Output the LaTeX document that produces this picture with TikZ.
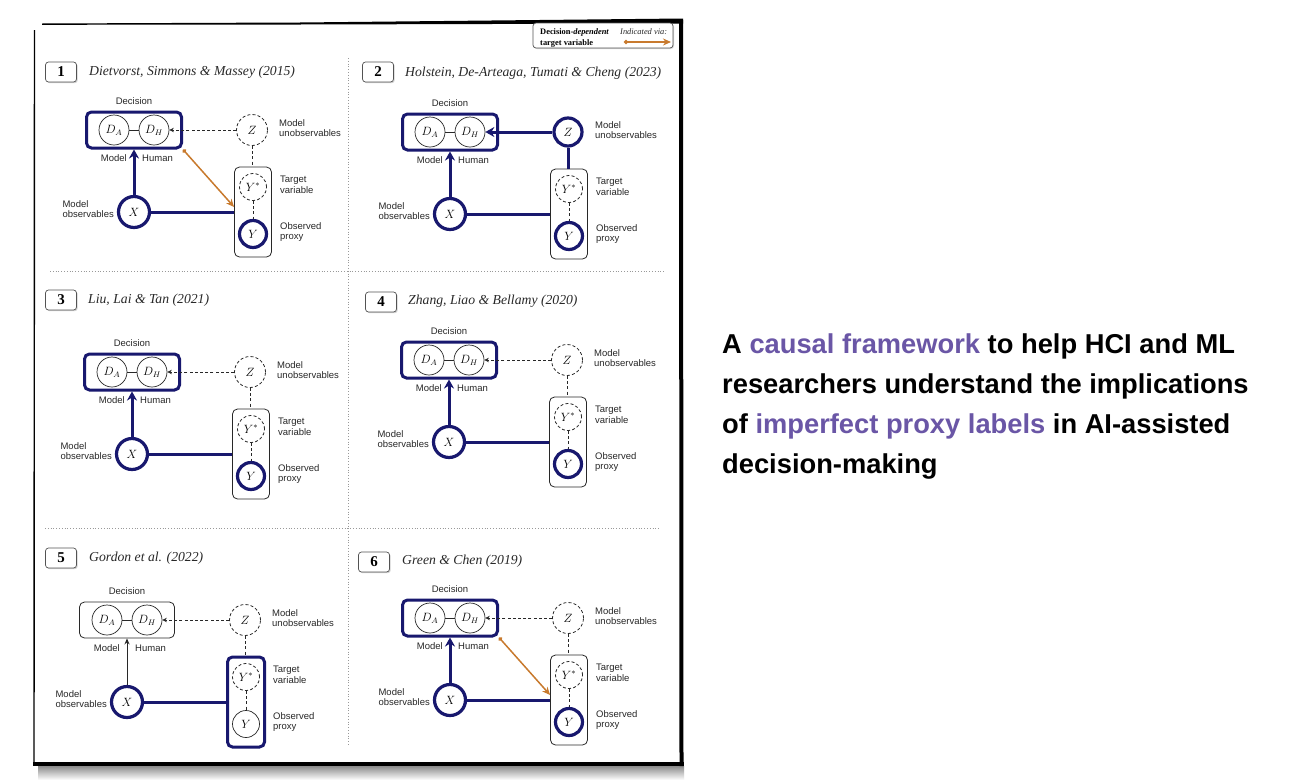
\documentclass[tikz,border=0pt]{standalone}
\usepackage{fontspec}
\setmainfont{Liberation Serif}
\setsansfont{Liberation Sans}
\usetikzlibrary{arrows.meta,shadows,calc}
\definecolor{navy}{RGB}{24,24,110}
\definecolor{orng}{RGB}{200,122,46}
\definecolor{purp}{RGB}{106,86,166}
\definecolor{ink}{RGB}{40,40,40}
\tikzset{
  lab/.style={font=\sffamily\fontsize{9.5}{10.5}\selectfont, text=ink, inner sep=0pt, align=left},
  mth/.style={circle, inner sep=0pt, font=\fontsize{12}{14}\selectfont},
  thinc/.style={mth, draw=ink, line width=0.7pt},
  dashc/.style={mth, draw=ink, line width=0.8pt, dash pattern=on 3pt off 2.2pt},
  thickc/.style={mth, draw=navy, line width=3.2pt},
  boxthin/.style={draw=ink, line width=0.8pt, rounded corners=5pt},
  boxthick/.style={draw=navy, line width=3pt, rounded corners=5pt},
  thinlink/.style={draw=ink, line width=0.7pt},
  dashlink/.style={draw=ink, line width=0.8pt, dash pattern=on 3pt off 2.2pt},
  dasharrow/.style={dashlink, -{Stealth[length=4.5pt,width=4.5pt]}},
  thicklink/.style={draw=navy, line width=3pt},
  thickarrow/.style={thicklink, -{Stealth[length=9pt,width=10pt]}},
  thinarrow/.style={thinlink, line width=1pt, -{Stealth[length=6pt,width=5pt]}},
  orangearrow/.style={draw=orng, line width=1.5pt, {Circle[length=4pt]}-{Stealth[length=8pt,width=7pt]}},
  numbox/.style={draw=ink!80, line width=0.7pt, rounded corners=3pt, fill=white,
    minimum width=31pt, minimum height=20pt, inner sep=0pt,
    font=\bfseries\fontsize{15}{15}\selectfont,
    drop shadow={shadow xshift=1.2pt, shadow yshift=-1.2pt, opacity=0.35}},
  ttl/.style={anchor=west, inner sep=0pt, text=ink, font=\itshape\fontsize{13.7}{16}\selectfont},
  divider/.style={draw=gray!80, line width=0.8pt, dotted},
  decs/.style={boxthick}, zs/.style={dashc, minimum size=31pt}, ys/.style={thickc}, tbs/.style={boxthin},
  xa/.style={thickarrow}, za/.style={dasharrow}, zl/.style={dashlink}
}
\newcommand\panelbody[1]{%
  \node[decs, minimum width=95pt, minimum height=36pt] (#1dec) at (0,0) {};
  \node[thinc, minimum size=30pt] (#1da) at (-20,0) {$D_A$};
  \node[thinc, minimum size=30pt] (#1dh) at (20,0) {$D_H$};
  \draw[thinlink] (#1da) -- (#1dh);
  \node[lab] (#1decl) at (0,-29) {Decision};
  \node[zs] (#1z) at (118,0) {$Z$};
  \node[lab, anchor=west] (#1zl) at (145,-2) {Model\\unobservables};
  \node[tbs, minimum width=37pt, minimum height=90pt] (#1tb) at (119,82) {};
  \node[dashc, minimum size=27pt] (#1ys) at (119,57) {$Y^*$};
  \node[ys, minimum size=27pt] (#1y) at (119,104) {$Y$};
  \node[thickc, minimum size=31pt] (#1x) at (0,82) {$X$};
  \node[lab, anchor=west] (#1tl) at (146,55) {Target\\variable};
  \node[lab, anchor=west] (#1ol) at (146,102) {Observed\\proxy};
  \node[lab, anchor=east] (#1xl) at (-20,79) {Model\\observables};
  \node[lab, anchor=east] (#1ml) at (-7,28) {Model};
  \node[lab, anchor=west] (#1hl) at (8,28) {Human};
  \draw[za] (#1z) -- (#1dh);
  \draw[zl] (#1z) -- (#1z |- #1tb.north);
  \draw[dashlink] (#1ys) -- (#1y);
  \draw[xa] (#1x) -- (#1x |- #1dec.south);
  \draw[thicklink] (#1x) -- (#1x -| #1tb.west);
}
\begin{document}
\begin{tikzpicture}[x=1pt,y=-1pt]
\useasboundingbox (0,0) rectangle (1290,782);
\fill[white] (0,0) rectangle (1290,782);
% frame shadow
\shade[top color=black!45, bottom color=white] (38,766) rectangle (684,780);
% frame
\fill[black] (42,23.5) -- (300,22.5) -- (683,18.5) -- (683,23.5) -- (300,24.5) -- (42,24.8) -- cycle;
\draw[black, line width=1.4pt] (34.5,30) -- (34,765);
\draw[black, line width=4pt] (681,20) -- (681.5,766);
\draw[black, line width=4.5pt] (33,764) -- (683.5,764);

% dividers
\draw[divider] (348,58) -- (348,745);
\draw[divider] (50,271) -- (664,271);
\draw[divider] (45,528) -- (660,528);

% legend
\node[draw=ink!80, line width=0.7pt, rounded corners=3pt, fill=white, minimum width=140pt, minimum height=25pt,
  drop shadow={shadow xshift=1pt, shadow yshift=-1pt, opacity=0.3}] (legend) at (603,35.5) {};
\node[anchor=base west, inner sep=0pt, font=\bfseries\fontsize{8.4}{9}\selectfont] (leg1) at (540,34) {Decision-\textit{dependent}};
\node[anchor=base west, inner sep=0pt, font=\bfseries\fontsize{8.4}{9}\selectfont] (leg2) at (540,45) {target variable};
\node[anchor=base west, inner sep=0pt, text=ink, font=\itshape\fontsize{8.4}{9}\selectfont] (leg3) at (620,34) {Indicated via:};
\coordinate (lega) at (624,42);
\coordinate (legb) at (671,42);
\draw[orangearrow, line width=1.3pt] (lega) -- (legb);

% panel 1
\node[numbox] (n1) at (61,72) {1};
\node[ttl] (t1) at (89,72) {Dietvorst, Simmons \& Massey (2015)};
\begin{scope}[shift={(134,130)}]
  \panelbody{a}
  \draw[orangearrow] (adec.south east) -- ($(ax -| atb.west)+(0,-5)$);
\end{scope}

% panel 2
\node[numbox] (n2) at (378,72) {2};
\node[ttl] (t2) at (405,73) {Holstein, De-Arteaga, Tumati \& Cheng (2023)};
\begin{scope}[shift={(450,132)}, zs/.style={thickc, minimum size=28pt}, za/.style={thickarrow}, zl/.style={thicklink}]
  \panelbody{b}
\end{scope}

% panel 3
\node[numbox] (n3) at (61,300) {3};
\node[ttl] (t3) at (88,300) {Liu, Lai \& Tan (2021)};
\begin{scope}[shift={(132,372)}]
  \panelbody{c}
\end{scope}

% panel 4
\node[numbox] (n4) at (381,302) {4};
\node[ttl] (t4) at (408,301) {Zhang, Liao \& Bellamy (2020)};
\begin{scope}[shift={(449,360)}]
  \panelbody{d}
\end{scope}

% panel 5
\node[numbox] (n5) at (61,558) {5};
\node[ttl] (t5) at (89,558) {Gordon et al. (2022)};
\begin{scope}[shift={(127,620)}, decs/.style={boxthin}, xa/.style={thinarrow}, tbs/.style={boxthick}, ys/.style={thinc}]
  \panelbody{e}
\end{scope}

% panel 6
\node[numbox] (n6) at (374,562) {6};
\node[ttl] (t6) at (402,561) {Green \& Chen (2019)};
\begin{scope}[shift={(450,618)}]
  \panelbody{f}
  \draw[orangearrow] (fdec.south east) -- ($(fx -| ftb.west)+(0,-5)$);
\end{scope}

% right text
\begin{scope}[every node/.style={anchor=base west, inner sep=0pt, font=\sffamily\bfseries\fontsize{27.3}{30}\selectfont}]
\node (r1) at (722,353) {A \textcolor{purp}{causal framework} to help HCI and ML};
\node (r2) at (722,393) {researchers understand the implications};
\node (r3) at (722,433) {of \textcolor{purp}{imperfect proxy labels} in AI-assisted};
\node (r4) at (722,473) {decision-making};
\end{scope}
\end{tikzpicture}
\end{document}
